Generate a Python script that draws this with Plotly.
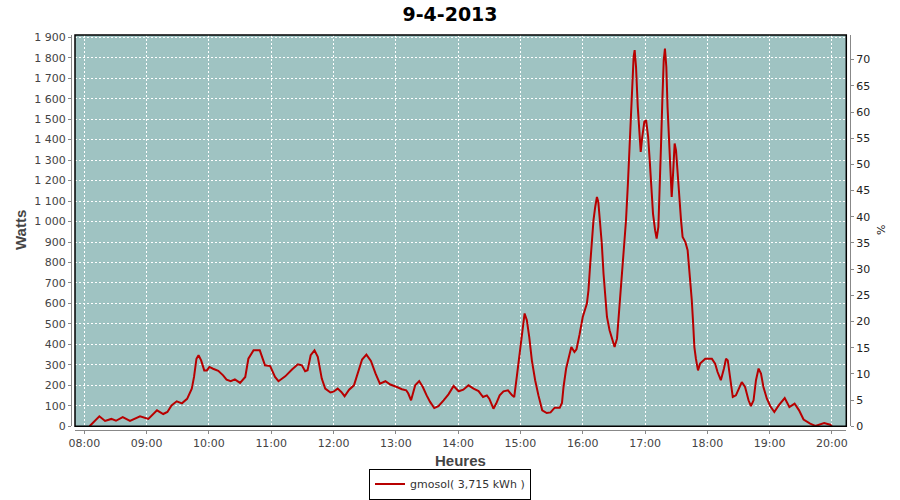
import plotly.graph_objects as go

DAY = "2013-04-09 "

times = [
    "08:05:00", "08:14:30", "08:20:00", "08:26:00", "08:30:30", "08:37:00", "08:44:00", "08:53:40",
    "09:01:40", "09:10:00", "09:16:00", "09:20:00", "09:24:00", "09:29:00", "09:34:00", "09:39:00",
    "09:43:30", "09:45:40", "09:48:00", "09:50:00", "09:52:30", "09:55:30", "09:58:00", "10:00:30",
    "10:04:00", "10:09:00", "10:13:40", "10:17:00", "10:21:00", "10:25:00", "10:30:00", "10:35:00",
    "10:38:00", "10:43:00", "10:49:00", "10:54:00", "10:59:00", "11:03:40", "11:07:00", "11:13:30",
    "11:20:00", "11:25:40", "11:29:30", "11:32:40", "11:35:00", "11:38:00", "11:41:40", "11:44:50",
    "11:48:40", "11:52:00", "11:57:00", "12:00:00", "12:04:00", "12:07:30", "12:10:40", "12:15:00",
    "12:19:40", "12:23:30", "12:27:30", "12:31:40", "12:36:00", "12:40:30", "12:44:40", "12:50:00",
    "12:54:40", "13:01:00", "13:05:50", "13:10:00", "13:12:00", "13:14:40", "13:18:40", "13:22:30",
    "13:26:00", "13:29:40", "13:33:00", "13:37:00", "13:41:00", "13:46:00", "13:50:40", "13:55:40",
    "14:00:30", "14:05:00", "14:10:00", "14:14:50", "14:19:40", "14:24:00", "14:27:40", "14:30:00",
    "14:34:00", "14:36:40", "14:40:00", "14:43:40", "14:48:00", "14:52:00", "14:54:00", "14:56:40",
    "14:59:00", "15:01:40", "15:04:00", "15:06:10", "15:08:30", "15:11:00", "15:14:10", "15:17:20",
    "15:21:00", "15:25:20", "15:29:00", "15:33:00", "15:37:50", "15:40:00", "15:41:30", "15:44:00",
    "15:46:20", "15:49:00", "15:52:00", "15:54:00", "15:57:00", "16:00:00", "16:04:00", "16:05:30",
    "16:07:00", "16:08:40", "16:10:20", "16:12:00", "16:13:40", "16:15:00", "16:16:50", "16:18:20",
    "16:20:00", "16:21:40", "16:23:20", "16:25:50", "16:28:00", "16:30:40", "16:33:00", "16:35:20",
    "16:37:50", "16:39:20", "16:41:40", "16:43:30", "16:45:00", "16:46:50", "16:48:00", "16:49:00",
    "16:50:00", "16:51:20", "16:53:00", "16:54:30", "16:55:50", "16:57:20", "16:59:20", "17:01:00",
    "17:03:00", "17:04:30", "17:06:00", "17:07:40", "17:09:40", "17:11:10", "17:12:50", "17:14:00",
    "17:15:20", "17:16:40", "17:18:00", "17:19:10", "17:20:30", "17:21:40", "17:23:00", "17:24:20",
    "17:25:40", "17:27:00", "17:28:30", "17:29:50", "17:31:20", "17:33:00", "17:34:40", "17:36:10",
    "17:38:50", "17:41:00", "17:43:00", "17:45:00", "17:46:20", "17:47:30", "17:49:00", "17:51:00",
    "17:53:00", "17:58:00", "18:04:20", "18:07:30", "18:09:50", "18:13:00", "18:16:00", "18:18:00",
    "18:19:40", "18:22:00", "18:24:30", "18:27:30", "18:30:00", "18:33:10", "18:36:20", "18:39:40",
    "18:42:00", "18:44:30", "18:46:50", "18:49:20", "18:51:40", "18:54:00", "18:57:20", "19:00:40",
    "19:04:30", "19:08:40", "19:14:30", "19:19:00", "19:24:00", "19:28:20", "19:32:40", "19:39:00",
    "19:44:00", "19:48:40", "19:52:30", "19:58:20", "20:00:00",
]

watts = [
    0, 49, 26, 36, 27, 45, 26, 49,
    36, 78, 60, 70, 102, 122, 112, 134,
    184, 241, 330, 347, 322, 273, 273, 290,
    281, 271, 249, 228, 220, 229, 212, 241,
    330, 371, 371, 298, 294, 241, 220, 244,
    277, 303, 298, 269, 274, 347, 371, 339,
    233, 184, 165, 169, 184, 168, 147, 179,
    200, 257, 326, 350, 319, 257, 208, 220,
    204, 192, 181, 176, 160, 127, 200, 221,
    192, 151, 119, 89, 98, 127, 156, 197,
    171, 179, 200, 184, 172, 143, 151, 135,
    86, 111, 151, 171, 176, 151, 143, 249,
    355, 469, 551, 518, 436, 322, 225, 151,
    78, 65, 68, 91, 91, 114, 192, 282,
    339, 387, 363, 376, 450, 534, 599, 664,
    778, 909, 1006, 1071, 1120, 1096, 998, 893,
    746, 616, 534, 469, 428, 387, 428, 583,
    746, 893, 1006, 1185, 1348, 1560, 1723, 1804,
    1837, 1755, 1560, 1413, 1340, 1413, 1487, 1495,
    1413, 1299, 1185, 1039, 958, 917, 974, 1120,
    1364, 1593, 1788, 1845, 1755, 1560, 1381, 1202,
    1120, 1234, 1381, 1348, 1234, 1153, 1006, 925,
    900, 860, 746, 616, 502, 387, 330, 273,
    306, 330, 330, 306, 265, 225, 282, 330,
    322, 225, 143, 151, 184, 216, 192, 127,
    99, 127, 225, 282, 257, 192, 135, 98,
    70, 102, 138, 94, 111, 78, 33, 13,
    2, 8, 16, 8, 0,
]

series_name = "gmosol( 3,715 kWh )"
title_text = "9-4-2013"
x_title = "Heures"
y_title = "Watts"
y2_title = "%"

x = [DAY + t for t in times]

FONT = "DejaVu Sans"
LFONT = "Liberation Sans"
fig = go.Figure()
fig.add_trace(go.Scatter(
    x=x, y=watts, mode="lines", name=series_name,
    line=dict(color="#b80000", width=2),
))
fig.add_trace(go.Scatter(x=[None], y=[None], yaxis="y2", showlegend=False,
                         hoverinfo="skip", mode="lines"))

# body margin is removed in the page (post_script), so figure coords == screen coords
W, H = 900, 500
ml, mr, mt, mb = 71, 50, 35, 70
pw, ph = W - ml - mr, H - mt - mb


def px(sx):
    return (sx - ml) / pw


def py(sy):
    return ((H - mb) - sy) / ph


x0d, x1d = px(75), px(846.3)
y0d = py(426.3)

fig.update_layout(
    width=W, height=H,
    margin=dict(l=ml, r=mr, t=mt, b=mb, pad=0, autoexpand=False),
    paper_bgcolor="white", plot_bgcolor="#9fc3c2",
    separators=", ",
    font=dict(family=FONT, size=11, color="#444444"),
    title=dict(text="<b>" + title_text + "</b>", x=px(450), xref="paper", xanchor="center",
               y=1 - 14 / H, yanchor="middle",
               font=dict(family=FONT, size=19, color="black")),
    showlegend=True,
    legend=dict(orientation="h", x=px(450), xanchor="center",
                y=py(484), yanchor="middle",
                bgcolor="white", bordercolor="black", borderwidth=1,
                font=dict(family=FONT, size=11, color="#333333"),
                itemwidth=30),
    xaxis=dict(
        type="date", domain=[x0d, x1d], anchor="free", position=0,
        range=[DAY + "07:51:02", DAY + "20:13:49"],
        tick0=DAY + "08:00:00", dtick=3600000, tickformat="%H:%M",
        showgrid=True, gridcolor="white", griddash="2px,2px", gridwidth=1,
        showline=True, linecolor="#888888", linewidth=1,
        ticks="outside", ticklen=3, tickcolor="#888888",
        tickfont=dict(family=FONT, size=11, color="#444444"),
        zeroline=False, fixedrange=True, automargin=False,
    ),
    yaxis=dict(
        domain=[y0d, 1], anchor="free", position=0,
        range=[0, 1911], dtick=100, tick0=0, separatethousands=True,
        showgrid=True, gridcolor="white", griddash="2px,2px", gridwidth=1,
        showline=True, linecolor="#888888", linewidth=1,
        ticks="outside", ticklen=3, tickcolor="#888888",
        tickfont=dict(family=FONT, size=11, color="#444444"),
        zeroline=False, fixedrange=True, automargin=False,
    ),
    yaxis2=dict(
        domain=[y0d, 1], anchor="free", position=1, side="right", overlaying="y",
        range=[0, 74.7], dtick=5, tick0=0,
        showgrid=False, showline=True, linecolor="#888888", linewidth=1,
        ticks="outside", ticklen=3, tickcolor="#888888",
        tickfont=dict(family=FONT, size=11, color="#222222"),
        zeroline=False, fixedrange=True, automargin=False,
    ),
    shapes=[dict(type="rect", xref="x domain", yref="y domain", x0=0, x1=1, y0=0, y1=1,
                 line=dict(color="black", width=1.5), fillcolor="rgba(0,0,0,0)", layer="above")],
    annotations=[
        dict(text="<b>" + x_title + "</b>", xref="paper", yref="paper", x=px(460.5), y=py(460),
             showarrow=False, xanchor="center", yanchor="middle",
             font=dict(family=LFONT, size=15, color="#444444")),
        dict(text="<b>" + y_title + "</b>", xref="paper", yref="paper", x=px(20), y=py(230),
             showarrow=False, xanchor="center", yanchor="middle", textangle=-90,
             font=dict(family=LFONT, size=15, color="#444444")),
        dict(text=y2_title, xref="paper", yref="paper", x=px(881), y=py(230),
             showarrow=False, xanchor="center", yanchor="middle", textangle=-90,
             font=dict(family=FONT, size=11, color="#222222")),
    ],
)

fig.write_html("out.html", config={"displayModeBar": False},
               post_script="document.body.style.margin='0px';")
